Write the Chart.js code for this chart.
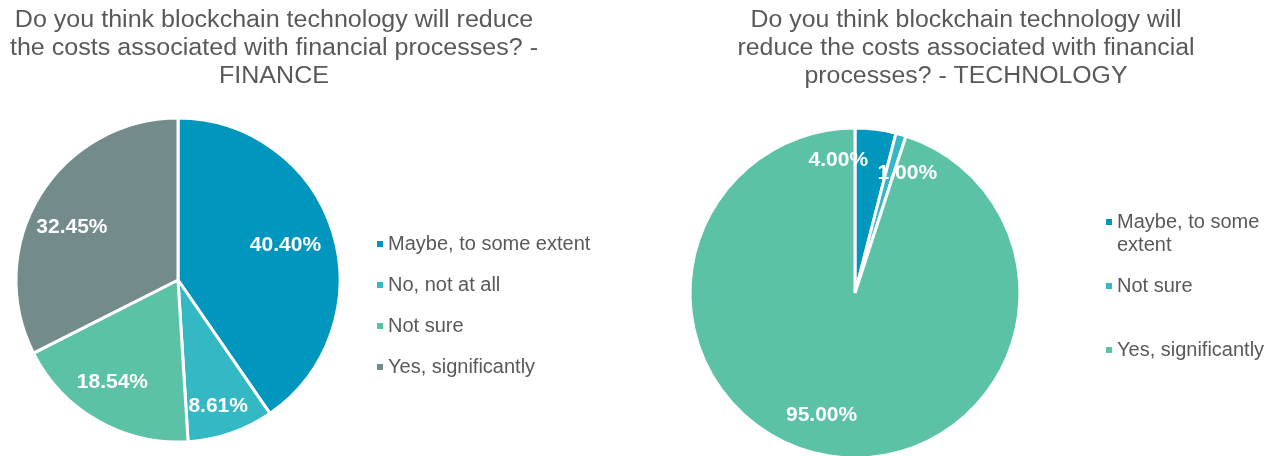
<!DOCTYPE html>
<html>
<head>
<meta charset="utf-8">
<script src="https://cdn.jsdelivr.net/npm/chart.js@4.4.1/dist/chart.umd.min.js"></script>
<style>
	html, body { margin: 0; padding: 0; background: #fff; overflow: hidden; }
	#graficos { position: relative; width: 1283px; height: 456px; overflow: hidden; }
	canvas { position: absolute; top: 0; }
	#graficoFinance { left: 0; }
	#graficoTechnology { left: 640px; }
</style>
</head>
<body>
<div id="graficos">
	<canvas id="graficoFinance" width="640" height="456"></canvas>
	<canvas id="graficoTechnology" width="643" height="470"></canvas>
</div>
<script>
// respostas - FINANCE
var financeTitulo = ['Do you think blockchain technology will reduce', 'the costs associated with financial processes? -', 'FINANCE'];
var financeCategorias = ['Maybe, to some extent', 'No, not at all', 'Not sure', 'Yes, significantly'];
var financeValores = [40.40, 8.61, 18.54, 32.45];

// respostas - TECHNOLOGY
var techTitulo = ['Do you think blockchain technology will', 'reduce the costs associated with financial', 'processes? - TECHNOLOGY'];
var techCategorias = ['Maybe, to some extent', 'Not sure', 'Yes, significantly'];
var techValores = [4.00, 1.00, 95.00];

var cores = {
	'Maybe, to some extent': '#0096be',
	'No, not at all': '#34b9c4',
	'Not sure': '#5cc2a6',
	'Yes, significantly': '#738b8b'
};
// no grafico de tecnologia as cores seguem a ordem da serie
var coresTech = ['#0096be', '#34b9c4', '#5cc2a6'];

var FONTE = '"Liberation Sans", Arial, sans-serif';
var COR_TEXTO = '#595959';

// titulo, rotulos e legenda desenhados direto no canvas
var textosPlugin = {
	id: 'textos',
	afterDraw: function(chart) {
		var cfg = chart.options.plugins.textos;
		var ctx = chart.ctx;
		ctx.save();

		// titulo (fonte um pouco mais larga)
		ctx.fillStyle = COR_TEXTO;
		ctx.font = cfg.tamanhoTitulo + 'px ' + FONTE;
		ctx.textAlign = 'center';
		ctx.textBaseline = 'middle';
		cfg.titulo.forEach(function(linha, i) {
			ctx.save();
			ctx.translate(cfg.tituloX, cfg.tituloY + i * cfg.alturaLinhaTitulo);
			ctx.scale(cfg.larguraTitulo, 1);
			ctx.fillText(linha, 0, 0);
			ctx.restore();
		});

		// rotulos com a porcentagem
		var meta = chart.getDatasetMeta(0);
		var valores = chart.data.datasets[0].data;
		ctx.fillStyle = '#fff';
		ctx.font = 'bold ' + cfg.tamanhoRotulo + 'px ' + FONTE;
		meta.data.forEach(function(arco, i) {
			var p = arco.getProps(['x', 'y', 'startAngle', 'endAngle', 'outerRadius'], true);
			var meio = (p.startAngle + p.endAngle) / 2;
			var r = p.outerRadius * cfg.raioRotulo;
			var ajuste = cfg.ajusteRotulo[i] || [0, 0];
			ctx.fillText(valores[i].toFixed(2) + '%', p.x + Math.cos(meio) * r + ajuste[0], p.y + Math.sin(meio) * r + ajuste[1]);
		});

		// legenda
		ctx.font = cfg.tamanhoLegenda + 'px ' + FONTE;
		ctx.textAlign = 'left';
		var cores = chart.data.datasets[0].backgroundColor;
		chart.data.labels.forEach(function(rotulo, i) {
			var y = cfg.legendaY + i * cfg.legendaPasso;
			ctx.fillStyle = cores[i];
			ctx.fillRect(cfg.legendaX, y - 3, 6, 6);
			ctx.fillStyle = COR_TEXTO;
			quebrarLinhas(ctx, rotulo, cfg.legendaLargura).forEach(function(linha, j) {
				ctx.fillText(linha, cfg.legendaX + 11, y + j * 23);
			});
		});
		ctx.restore();
	}
};

function quebrarLinhas(ctx, texto, largura) {
	var palavras = texto.split(' ');
	var linhas = [];
	var atual = '';
	palavras.forEach(function(p) {
		var teste = atual ? atual + ' ' + p : p;
		if (atual && ctx.measureText(teste).width > largura) {
			linhas.push(atual);
			atual = p;
		} else {
			atual = teste;
		}
	});
	linhas.push(atual);
	return linhas;
}

function criarPizza(id, categorias, valores, coresFatias, padding, textos) {
	return new Chart(document.getElementById(id), {
		type: 'pie',
		data: {
			labels: categorias,
			datasets: [{
				data: valores,
				backgroundColor: coresFatias,
				borderColor: '#fff',
				borderWidth: 3
			}]
		},
		options: {
			responsive: false,
			animation: false,
			layout: { padding: padding },
			plugins: {
				legend: { display: false },
				tooltip: { enabled: false },
				textos: textos
			}
		},
		plugins: [textosPlugin]
	});
}

criarPizza('graficoFinance', financeCategorias, financeValores,
	financeCategorias.map(function(c) { return cores[c]; }),
	{ left: 14.5, top: 116.5, right: 298.5, bottom: 12.5 },
	{
		titulo: financeTitulo, tituloX: 274, tituloY: 21, alturaLinhaTitulo: 28, tamanhoTitulo: 23, larguraTitulo: 1.09,
		tamanhoRotulo: 21, raioRotulo: 0.74, ajusteRotulo: [[-7, 1], [1, 13], [-6, -2], [-4, 10]],
		tamanhoLegenda: 20, legendaX: 377, legendaY: 244, legendaPasso: 41, legendaLargura: 400
	});

criarPizza('graficoTechnology', techCategorias, techValores, coresTech,
	{ left: 48.5, top: 126.5, right: 261.5, bottom: 10.5 },
	{
		titulo: techTitulo, tituloX: 326, tituloY: 21, alturaLinhaTitulo: 28, tamanhoTitulo: 23, larguraTitulo: 1.08,
		tamanhoRotulo: 21, raioRotulo: 0.79, ajusteRotulo: [[-33, -3], [16, 5], [-13, -7]],
		tamanhoLegenda: 20, legendaX: 466, legendaY: 222, legendaPasso: 64, legendaLargura: 165
	});
</script>
</body>
</html>
